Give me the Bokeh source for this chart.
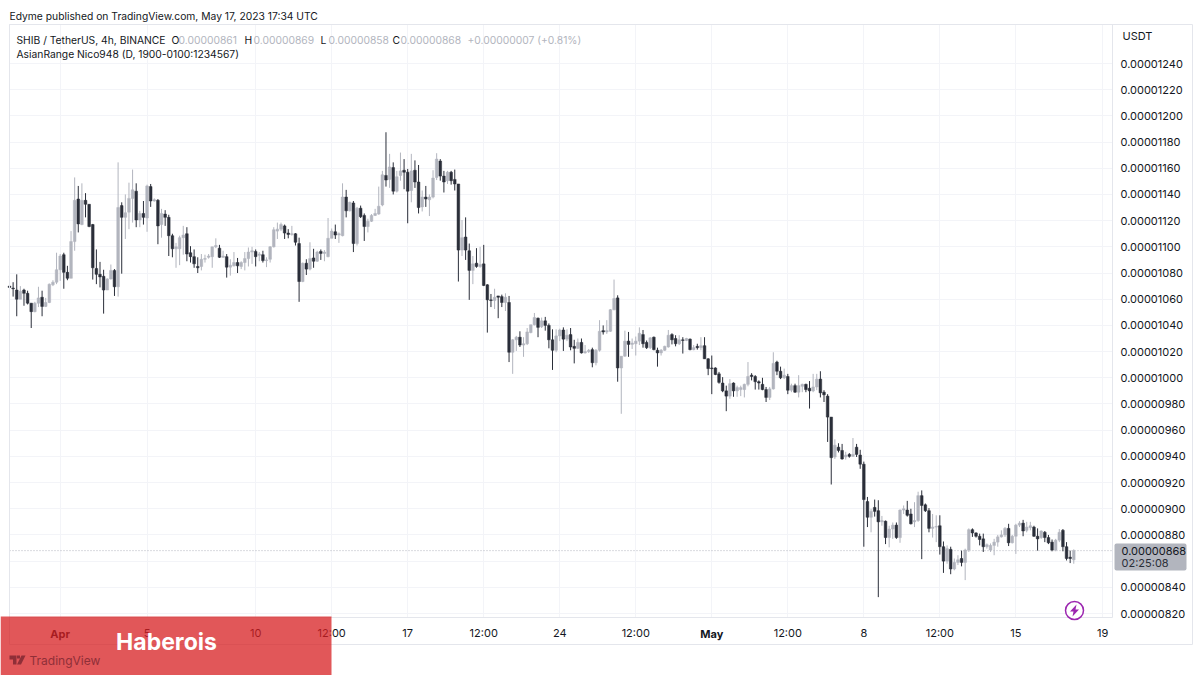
from bokeh.embed import file_html
from bokeh.resources import INLINE
from bokeh.models import BoxAnnotation, FixedTicker, Label, PolyAnnotation, Range1d, ColumnDataSource
from bokeh.plotting import figure
import pandas as pd

# Candle prices in units of 0.00000001 USDT (4h candles, SHIB/USDT)
opens = [
 1070,1068.5,1067,1060,1067,1064.5,1057,1050.5,1057,1061.5,
 1054.5,1057.5,1071,1073,1082.5,1094,1080.5,1076,1104,1136.5,
 1117,1135.5,1132.5,1117,1083.5,1079,1077.5,1067,1075.5,1082,
 1069.5,1131.5,1122.5,1126.5,1137,1142.5,1120.5,1125.5,1122,1146,
 1135,1135.5,1117,1125,1122.5,1108.5,1098.5,1098.5,1107,1110,
 1095.5,1092.5,1085,1085,1090.5,1092,1092.5,1100,1099,1092,
 1092.5,1084.5,1085.5,1088,1085,1088,1091,1096,1096.5,1093.5,
 1094,1089.5,1090.5,1100,1112,1113.5,1116,1110.5,1109.5,1110,
 1102.5,1073.5,1087.5,1083,1091.5,1089,1096.5,1095,1092.5,1106.5,
 1111.5,1109,1108.5,1138,1127.5,1133.5,1102.5,1129.5,1124,1115.5,
 1119.5,1124,1125,1132,1154.5,1151.5,1160.5,1142.5,1154.5,1158.5,
 1157,1143,1158.5,1149.5,1130.5,1138,1136,1138,1153,1165.5,
 1154,1150.5,1157,1151.5,1148,1097.5,1107.5,1097,1082,1087.5,
 1085,1087,1071,1059.5,1059,1062.5,1062,1057.5,1057.5,1019.5,
 1029,1031,1025,1026,1034.5,1040.5,1045.5,1039,1043.5,1040,
 1029,1021,1032,1036.5,1029.5,1033,1024,1022.5,1027,1019,
 1020,1021.5,1011.5,1021,1036,1035,1035.5,1052,1061,1007.5,
 1016.5,1028,1025.5,1026,1028,1033,1027,1023,1031,1021,
 1019,1021,1023.5,1033,1030,1026,1029,1028.5,1029.5,1021.5,
 1024,1023,1024.5,1014.5,1007.5,1007.5,1003,996,990,986,
 996,990,991,991,995,1002,1001,997,995,991,
 985,991.5,1012,1005,1000,1001,990.5,994,989,993.5,
 995,992,990,993,999,989,986,970,939.5,947,
 944.5,939.5,941.5,940,947,941,934,905.5,893.5,901,
 898.5,890,890.5,878,884.5,887.5,878,899,899,896,
 890,891,910,903,898.5,885,886,887,871,860,
 869,854,859,862,859,868.5,884,881.5,879,877,
 871,868.5,872,874.5,878.5,880,885,874,879,887.5,
 889,883.5,885.5,886,879,878,882,878,874.5,868.5,
 876,883.5,871,863,861]
highs = [
 1071,1073,1079,1070,1068,1066.5,1057,1058,1069.5,1066.5,
 1061,1072,1074.5,1095.5,1094.5,1095.5,1085.5,1112,1153,1146.5,
 1148.5,1141,1132.5,1117.5,1098,1088.5,1082.5,1076,1086.5,1083,
 1164.5,1134,1140,1149,1159,1148.5,1127.5,1135,1147.5,1148,
 1137,1136.5,1129,1128,1124.5,1110,1103,1108.5,1116,1115,
 1100.5,1098,1092,1094.5,1094,1094.5,1100,1106.5,1101.5,1097,
 1094.5,1090.5,1096,1091.5,1089,1096,1099.5,1100,1098,1096,
 1097,1092,1100.5,1115,1118.5,1118.5,1117,1113.5,1116,1110.5,
 1107,1088,1090.5,1103.5,1098.5,1097,1098,1097.5,1122,1114,
 1117,1111,1148.5,1143.5,1134.5,1135,1130.5,1131.5,1125.5,1121.5,
 1125,1129,1146,1158,1187.5,1171,1164.5,1158,1172,1167,
 1159.5,1171,1166,1162.5,1143,1146.5,1140,1158.5,1171.5,1167,
 1158,1158,1158,1159,1148,1120.5,1122.5,1102.5,1093,1099,
 1100,1101.5,1071.5,1064,1068,1062.5,1063.5,1064.5,1062.5,1029.5,
 1032,1035.5,1031,1038,1040.5,1049.5,1046,1046,1046.5,1041.5,
 1037,1037,1037.5,1038.5,1037,1038,1029,1030,1030,1025,
 1022,1023,1022,1044,1040,1044,1052.5,1075,1063,1016.5,
 1036,1035,1030,1031.5,1038.5,1036.5,1028.5,1031,1031.5,1023,
 1022,1024.5,1036.5,1034,1032.5,1032.5,1031,1030.5,1030,1025,
 1026,1031,1031,1015,1017,1008,1004.5,1000.5,994,999,
 996.5,994,994,995.5,1012,1003.5,1002,998,1000,993,
 993,1019.5,1013,1008.5,1007,1003,995.5,995.5,1002,995.5,
 995.5,997.5,1003,1003,1005,990.5,987.5,970,953,950,
 949.5,943.5,942.5,954,949.5,945,936,909,900,907,
 906.5,894.5,891,887,889.5,889.5,899.5,902.5,906,900,
 905,913,914,904,900.5,896,895,895,875,872,
 871,862,864.5,868,869.5,885,885,882,881,881,
 873.5,873.5,877,880,883.5,886,888.5,880,888.5,890.5,
 891.5,890,890,887,885,883.5,883,880,876.5,877,
 884.5,884.5,874.5,868,869]
lows = [
 1068,1062,1047,1060,1055,1056,1038,1050,1054,1047,
 1054,1057,1070,1071.5,1074,1068,1074.5,1076,1097,1111,
 1116.5,1122.5,1115,1075,1071.5,1069,1049,1067,1075,1062.5,
 1062,1079.5,1106,1113.5,1118.5,1115,1115,1117,1111.5,1130.5,
 1134.5,1102,1107,1116,1093,1092,1084,1086,1094,1089,
 1088,1084,1080,1082,1088,1091,1084,1099,1091.5,1091.5,
 1076.5,1078,1085,1080,1083,1082,1085,1087,1085,1089,
 1088,1084.5,1088,1099.5,1106,1112,1106,1106.5,1108.5,1101,
 1058,1073,1078.5,1082,1084,1088.5,1090,1089,1092,1106.5,
 1106,1103,1108,1122.5,1127,1096,1101,1122,1104.5,1111,
 1119,1123.5,1124.5,1131,1146,1145,1140,1141.5,1150.5,1144,
 1118,1134,1145,1125.5,1127,1130.5,1123.5,1137,1151,1150.5,
 1141.5,1148,1147.5,1143,1073.5,1093,1090,1059.5,1071.5,1084,
 1084,1070,1034.5,1054,1052.5,1045.5,1054,1051,1012,1003,
 1020.5,1023.5,1016,1025,1034,1040,1031,1038,1036,1022.5,
 1006,1019.5,1028,1020.5,1028,1021,1011,1022,1018.5,1018.5,
 1019,1008,1009.5,1020,1033,1033.5,1035,1051.5,997,972.5,
 1016,1016,1022,1017,1025,1023,1022,1022,1021,1008.5,
 1017,1020.5,1023,1025.5,1024,1025,1018.5,1028,1021,1021,
 1021.5,1021,1014.5,1002,987.5,1002,995.5,989,974.5,984,
 985.5,985.5,986,985,993.5,998,991,991,990.5,981.5,
 983,991,1002,999,999,987.5,989,988.5,985,989,
 989,976.5,989,990.5,985,981.5,951,918.5,938,943,
 937.5,937.5,939,939.5,939.5,930.5,871,886,882,894,
 832.5,887,873,870.5,877,877,874,896,894,888,
 886,890,861.5,897.5,882,878,874.5,865,851,858,
 850,853,857,856,845.5,867,878.5,878,872,867,
 869.5,867,864.5,871,878,878.5,871.5,873.5,865.5,886,
 879,882,883.5,878.5,868,877,874.5,873,867.5,867.5,
 874.5,867.5,860.5,858.5,858]
closes = [
 1069,1068,1060,1066,1064.5,1057,1050.5,1057,1061,1054.5,
 1057.5,1071.5,1073,1082.5,1093,1080.5,1076,1104,1135.5,1117.5,
 1135.5,1132.5,1115.5,1084,1079,1077,1067,1075.5,1082,1069.5,
 1130,1122.5,1126,1137,1143.5,1120.5,1125.5,1122.5,1146.5,1135,
 1136,1116,1125.5,1122.5,1108.5,1098.5,1100,1107,1109,1094.5,
 1092.5,1087,1084,1090.5,1091,1093,1100,1101,1092,1093,
 1084.5,1086,1088,1085.5,1088,1091,1096,1097,1092.5,1094.5,
 1089.5,1090,1100,1113,1113.5,1117,1110.5,1109.5,1110,1103.5,
 1073.5,1087.5,1083,1091,1089,1096,1095,1096,1106.5,1112,
 1109,1110,1138,1127.5,1134,1102.5,1129.5,1123,1115.5,1119.5,
 1124,1125.5,1131,1155,1151,1161,1142.5,1153.5,1158,1157,
 1142.5,1158,1149.5,1130,1138,1136.5,1138,1152.5,1167,1154,
 1149.5,1157,1150.5,1148,1097.5,1107,1097.5,1082,1087,1085,
 1086.5,1070.5,1059.5,1059,1061.5,1061.5,1057.5,1061.5,1019.5,1029,
 1031,1025,1026,1035,1040.5,1046,1038.5,1043.5,1040,1029,
 1021,1032,1036.5,1029.5,1032.5,1023.5,1022.5,1027,1019,1020,
 1021,1011.5,1021,1035.5,1035,1036,1052,1060.5,1007.5,1016.5,
 1028,1025.5,1026.5,1028,1034,1026,1023,1030.5,1021.5,1019,
 1021,1024,1032.5,1029,1026,1029,1028.5,1030,1021.5,1023,
 1023,1024.5,1014.5,1007,1007,1002.5,996.5,990,986,995.5,
 990,992.5,992.5,995,1001,1001,997,996,991,985,
 991.5,1011,1005,1000,1002,990.5,994,989,994,995,
 991,990,993,999,988.5,987,970,939,948.5,944.5,
 938,941,940,941.5,941.5,934,907,893.5,898,898,
 890,891,878,884.5,887.5,878,899,900,895,888.5,
 891,910,902.5,898.5,885,886,886.5,871,860,869.5,
 854,859,861,859,868.5,884,881.5,879,876.5,871,
 872.5,872,874.5,878.5,880,885,874,879,887.5,889,
 883,886,887,879,877,883,878,874,868.5,876,
 882,871,862,862,868]

first_candle = "2023-03-29 16:00"
time_ticks = ["2023-04-01", "2023-04-05", "2023-04-10", "2023-04-13 12:00", "2023-04-17",
              "2023-04-20 12:00", "2023-04-24", "2023-04-27 12:00", "2023-05-01",
              "2023-05-04 12:00", "2023-05-08", "2023-05-11 12:00", "2023-05-15", "2023-05-19"]
time_labels = ["Apr", "5", "10", "12:00", "17", "12:00", "24", "12:00", "May", "12:00", "8",
               "12:00", "15", "19"]
price_ticks = list(range(820, 1241, 20))

FONT = "Inter"
TEXT = "#131722"
UP = "#b2b5be"
DOWN = "#2a2e39"
GRID = "#f3f4f8"
EDGE = "#e4e6ec"
PURPLE = "#9c27b0"

W, H = 1200, 675
L, R, T, B = 9, 1112, 24, 617      # chart pane inside the picture
PITCH = 3.62                       # pixels per candle
px_per_price = (613 - 63) / (1240 - 820)


def xval(px):
    return (px - L) / PITCH


def yval(py):
    return 820 + (613 - py) / px_per_price


def sx(x):
    return x


def sy(y):
    return H - y


def candle_pos(when):
    return (pd.Timestamp(when) - pd.Timestamp(first_candle)) / pd.Timedelta(hours=4)


def price_label(v):
    return f"{v / 1e8:.8f}"


n = len(closes)
assert n == len(opens) == len(highs) == len(lows)
idx = list(range(n))
colors = [UP if c >= o else DOWN for o, c in zip(opens, closes)]
src = ColumnDataSource(dict(x=idx, o=opens, h=highs, l=lows, c=closes, color=colors))

p = figure(width=W, height=H, output_backend="svg", toolbar_location=None,
           x_range=Range1d(xval(0), xval(W)), y_range=Range1d(yval(H), yval(0)),
           y_axis_location="right", min_border=0, outline_line_color=None,
           background_fill_color="white")

tick_pos = [candle_pos(t) for t in time_ticks]
p.xaxis.ticker = FixedTicker(ticks=tick_pos)
p.xaxis.major_label_overrides = {pos: ("" if lab in ("Apr", "May") else lab)
                                 for pos, lab in zip(tick_pos, time_labels)}
p.yaxis.ticker = FixedTicker(ticks=price_ticks)
p.yaxis.major_label_overrides = {v: price_label(v) for v in price_ticks}
p.xaxis.fixed_location = yval(B)
p.yaxis.fixed_location = xval(R)
for ax in (p.xaxis[0], p.yaxis[0]):
    ax.axis_line_color = None
    ax.major_tick_line_color = None
    ax.minor_tick_line_color = None
    ax.major_label_text_font = FONT
    ax.major_label_text_font_size = "11px"
    ax.major_label_text_color = TEXT
p.xaxis.major_label_standoff = 2
p.yaxis.major_label_standoff = 2
p.grid.grid_line_color = GRID
p.grid.grid_line_width = 1
p.xgrid.cross_bounds = (yval(B), yval(T))
p.ygrid.cross_bounds = (xval(L), xval(R))

p.line([xval(L), xval(R)], [closes[-1], closes[-1]], line_color=UP, line_width=1, line_dash=[1, 2])
p.segment("x", "h", "x", "l", source=src, line_color="color", line_width=1)
p.vbar("x", 0.74, "o", "c", source=src, fill_color="color", line_color="color", line_width=0.5)


def text(s, x, y, color=TEXT, size=10.3, style="normal", align="left", font=FONT):
    p.add_layout(Label(x=sx(x), y=sy(y), x_units="screen", y_units="screen", text=s,
                       text_color=color, text_font_size=f"{size}px", text_font=font,
                       text_font_style=style, text_align=align, text_baseline="middle",
                       level="overlay"))


def box(l, r, t, b, fill=None, alpha=1.0, line=None, radius=0, width=1):
    p.add_layout(BoxAnnotation(left=sx(l), right=sx(r), top=sy(t), bottom=sy(b),
                               left_units="screen", right_units="screen",
                               top_units="screen", bottom_units="screen",
                               fill_color=fill, fill_alpha=alpha if fill else 0,
                               line_color=line, line_width=width, line_alpha=1 if line else 0,
                               border_radius=radius, level="overlay"))


def poly(points, color):
    p.add_layout(PolyAnnotation(xs=[sx(a) for a, _ in points], ys=[sy(b) for _, b in points],
                                xs_units="screen", ys_units="screen", fill_color=color,
                                fill_alpha=1, line_color=None, level="overlay"))


# Pane and snapshot borders
box(L, 1192, T, 644, line=EDGE)
box(L, R, T, B, line=EDGE)

# Headers
text("Edyme published on TradingView.com, May 17, 2023 17:34 UTC", 9, 15)
text("SHIB / TetherUS, 4h, BINANCE", 16, 39)
for letter, lx, val, vx in (("O", 171, opens[-1], 178), ("H", 244, highs[-1], 253),
                            ("L", 320, lows[-1], 328), ("C", 392, closes[-1], 400)):
    text(letter, lx, 39)
    text(price_label(val), vx, 39, color=UP)
text("+0.00000007 (+0.81%)", 467, 39, color=UP)
text("AsianRange Nico948 (D, 1900-0100:1234567)", 16, 53)
text("USDT", 1122, 35, size=11)

# Bold month names on the time axis
for pos, lab in zip(tick_pos, time_labels):
    if lab in ("Apr", "May"):
        p.add_layout(Label(x=pos, y=sy(633), x_units="data", y_units="screen", text=lab,
                           text_color=TEXT, text_font=FONT, text_font_size="11px",
                           text_font_style="bold", text_align="center", text_baseline="middle",
                           level="overlay"))

# Last price badge
box(1114, 1186, 543, 570, fill=UP, radius=2)
text(price_label(closes[-1]), 1121, 550, size=11)
text("02:25:08", 1121, 562, color="#2a2e39", size=11)

# Lightning icon
box(1065, 1083, 601, 619, fill="white", line=PURPLE, radius=9, width=1.5)
poly([(1076, 604), (1069.5, 611), (1073, 611), (1072, 616), (1078.5, 609), (1075, 609)], PURPLE)

# Banner over the lower-left corner
box(0, 331, 616, 675, fill="#d71f21", alpha=0.75)
text("Haberois", 166, 641, color="white", size=23, style="bold", align="center")
text("TradingView", 29, 660, color="#8f2f38", size=12)
poly([(9, 655), (16, 655), (16, 664), (12.5, 664), (12.5, 659), (9, 659)], "#8f2f38")
poly([(21, 655), (25, 655), (20.5, 664), (16.5, 664)], "#8f2f38")
poly([(16.5, 655), (19.5, 655), (19.5, 658), (16.5, 658)], "#8f2f38")

open("out.html", "w").write(file_html(p, INLINE))
